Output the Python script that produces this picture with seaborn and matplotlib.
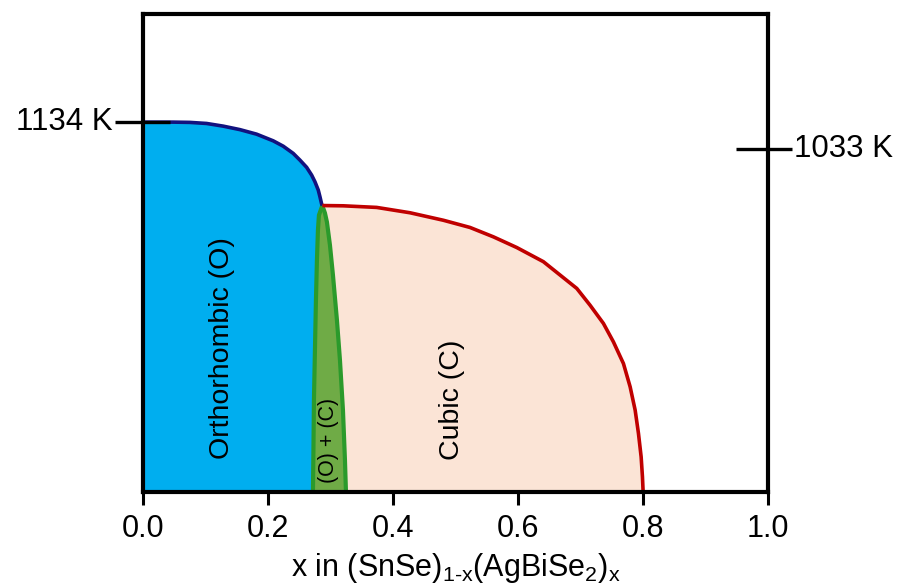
import matplotlib
matplotlib.use("Agg")
import matplotlib.pyplot as plt
import matplotlib.transforms as mtransforms
import pandas as pd
import seaborn as sns

# Composition axis (x in (SnSe)1-x(AgBiSe2)x) and temperature (K) of the phase boundaries
T_FLOOR = -250          # baseline of the schematic temperature axis
T_TOP = 1538

ortho_x = [0.0, 0.0485, 0.0752, 0.1019, 0.1285, 0.1552, 0.1819, 0.2085, 0.2245,
           0.2405, 0.2512, 0.2619, 0.2699, 0.2752, 0.2805, 0.2832, 0.2859, 0.287]
ortho_T = [1134, 1134, 1133, 1129, 1119, 1106, 1089, 1064, 1044,
           1017, 992, 965, 936, 911, 880, 855, 828, 822]

cubic_x = [0.287, 0.3205, 0.3739, 0.4272, 0.4805, 0.5232, 0.5605, 0.5979, 0.6405,
           0.6672, 0.6939, 0.7152, 0.7365, 0.7525, 0.7685, 0.7792, 0.7872, 0.7925,
           0.7968, 0.7989, 0.8]
cubic_T = [822, 821, 815, 795, 767, 740, 705, 665, 612,
           562, 512, 449, 381, 312, 231, 144, 57, -30,
           -118, -193, T_FLOOR]

two_left_x = [0.287, 0.2816, 0.2800, 0.2784, 0.2768, 0.2752, 0.2736, 0.2728, 0.272]
two_left_T = [822, 786, 730, 618, 468, 281, 94, -93, T_FLOOR]
two_right_x = [0.287, 0.2912, 0.2944, 0.2992, 0.3040, 0.3104, 0.3152, 0.3200, 0.3232, 0.3248]
two_right_T = [822, 794, 760, 674, 562, 393, 244, 57, -130, T_FLOOR]

melt_SnSe = 1134
melt_AgBiSe2 = 1033

x_ticks = [0.0, 0.2, 0.4, 0.6, 0.8, 1.0]
x_ticklabels = ["0.0", "0.2", "0.4", "0.6", "0.8", "1.0"]

sns.set_theme(style="white")
plt.rcParams["font.family"] = ["Liberation Sans", "DejaVu Sans"]
plt.rcParams["mathtext.fontset"] = "custom"
plt.rcParams["mathtext.rm"] = "Liberation Sans"
plt.rcParams["mathtext.it"] = "Liberation Sans"

fig = plt.figure(figsize=(9.04, 5.88), dpi=100)
ax = fig.add_axes([0.158, 0.163, 0.6918, 0.813])

C_ORTHO_FILL = "#00AEEF"
C_ORTHO_LINE = "#12127F"
C_CUBIC_FILL = "#FBE4D6"
C_CUBIC_LINE = "#C00000"
C_TWO_FILL = "#6FAB46"
C_TWO_LINE = "#2B9A2B"

# Cubic region: right edge of the two-phase lens, then the cubic boundary
cub_poly_x = list(reversed(two_right_x)) + cubic_x[1:]
cub_poly_T = list(reversed(two_right_T)) + cubic_T[1:]
ax.fill(cub_poly_x, cub_poly_T, color=C_CUBIC_FILL, lw=0, zorder=1)

# Orthorhombic region
orth_poly_x = [0.0] + ortho_x + two_left_x[1:]
orth_poly_T = [T_FLOOR] + ortho_T + two_left_T[1:]
ax.fill(orth_poly_x, orth_poly_T, color=C_ORTHO_FILL, lw=0, zorder=1)

# Two-phase (O) + (C) lens
lens_x = two_left_x + list(reversed(two_right_x))
lens_T = two_left_T + list(reversed(two_right_T))
ax.fill(lens_x, lens_T, color=C_TWO_FILL, lw=0, zorder=2)

def boundary(xs, ts, color, lw, z):
    df = pd.DataFrame({"x": xs, "T": ts})
    sns.lineplot(data=df, x="x", y="T", sort=False, estimator=None,
                 color=color, lw=lw, ax=ax, zorder=z)
    line = ax.lines[-1]
    line.set_solid_capstyle("butt")
    line.set_solid_joinstyle("round")

boundary(two_left_x, two_left_T, C_TWO_LINE, 3.0, 3)
boundary(two_right_x, two_right_T, C_TWO_LINE, 3.0, 3)
boundary(ortho_x, ortho_T, C_ORTHO_LINE, 2.6, 4)
boundary(cubic_x, cubic_T, C_CUBIC_LINE, 2.6, 4)

ax.set_xlim(0, 1)
ax.set_ylim(T_FLOOR, T_TOP)
ax.set_xticks(x_ticks)
ax.set_xticklabels(x_ticklabels, fontsize=22)
ax.set_yticks([])
ax.tick_params(axis="x", direction="out", length=9.5, width=2.2, color="black",
               bottom=True, top=False, pad=6, labelcolor="black")
for s in ax.spines.values():
    s.set_linewidth(3.0)
    s.set_color("black")
    s.set_zorder(6)

ax.set_xlabel(r"x in (SnSe)$_{\mathregular{1\text{-}x}}$(AgBiSe$_{\mathregular{2}}$)$_{\mathregular{x}}$",
              fontsize=22, labelpad=5, color="black")
ax.set_ylabel("")

# Melting points marked on both temperature axes
trans = mtransforms.blended_transform_factory(ax.transAxes, ax.transData)
ax.plot([-0.045, 0.043], [melt_SnSe, melt_SnSe], color="black", lw=2.4,
        transform=trans, clip_on=False, zorder=7, solid_capstyle="butt")
ax.text(-0.048, melt_SnSe, f"{melt_SnSe} K", transform=trans, ha="right",
        va="center", fontsize=22.5, color="black")
ax.plot([0.949, 1.038], [melt_AgBiSe2, melt_AgBiSe2], color="black", lw=2.4,
        transform=trans, clip_on=False, zorder=7, solid_capstyle="butt")
ax.text(1.041, melt_AgBiSe2, f"{melt_AgBiSe2} K", transform=trans, ha="left",
        va="center", fontsize=22.5, color="black")

# Phase labels
ax.text(0.1264, 289, "Orthorhombic (O)", rotation=90, ha="center", va="center",
        fontsize=20.5, color="black", zorder=8)
ax.text(0.4944, 94, "Cubic (C)", rotation=90, ha="center", va="center",
        fontsize=20.5, color="black", zorder=8)
ax.text(0.2968, -55, "(O) + (C)", rotation=90, ha="center", va="center",
        fontsize=15.5, color="black", zorder=8)

fig.savefig("out.png", dpi=100, facecolor="white")
